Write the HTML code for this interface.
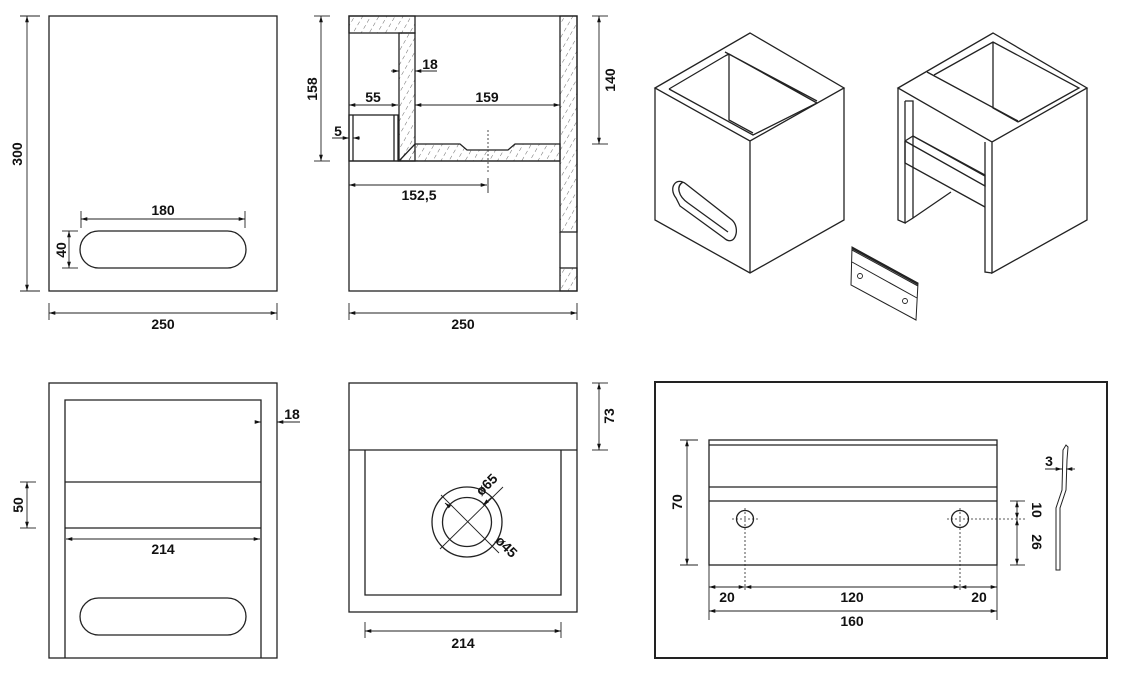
<!DOCTYPE html>
<html><head><meta charset="utf-8"><style>
html,body{margin:0;padding:0;background:#fff}
svg{display:block}
text{font-family:"Liberation Sans",sans-serif;font-size:14px;font-weight:bold;fill:#111}
</style></head><body>
<svg width="1127" height="676" viewBox="0 0 1127 676" xmlns="http://www.w3.org/2000/svg">
<defs>
<marker id="a" viewBox="0 0 10 10" refX="10" refY="5" markerWidth="7" markerHeight="7" orient="auto-start-reverse"><path d="M0,2 L10,5 L0,8 z" fill="#111"/></marker>
<pattern id="h" width="7" height="7" patternUnits="userSpaceOnUse" patternTransform="rotate(30)"><line x1="0" y1="0" x2="0" y2="4" stroke="#444" stroke-width="0.8"/></pattern>
</defs>
<g fill="none" stroke="#222" stroke-width="1.3">
<!-- view 1 -->
<rect x="49" y="16" width="228" height="275"/>
<rect x="80" y="231" width="166" height="37" rx="18.5"/>
<g stroke-width="0.9">
<line x1="27" y1="16" x2="27" y2="291" marker-start="url(#a)" marker-end="url(#a)"/>
<line x1="20" y1="16" x2="40" y2="16"/><line x1="20" y1="291" x2="40" y2="291"/>
<line x1="49" y1="313" x2="277" y2="313" marker-start="url(#a)" marker-end="url(#a)"/>
<line x1="49" y1="303" x2="49" y2="320"/><line x1="277" y1="303" x2="277" y2="320"/>
<line x1="81" y1="219" x2="245" y2="219" marker-start="url(#a)" marker-end="url(#a)"/>
<line x1="81" y1="211" x2="81" y2="228"/><line x1="245" y1="211" x2="245" y2="228"/>
<line x1="69" y1="231" x2="69" y2="268" marker-start="url(#a)" marker-end="url(#a)"/>
<line x1="62" y1="231" x2="78" y2="231"/><line x1="62" y1="268" x2="78" y2="268"/>
</g>
<!-- view 2 section -->
<rect x="349" y="16" width="228" height="275"/>
<rect x="349" y="16" width="66" height="17" fill="url(#h)"/>
<rect x="399" y="33" width="16" height="128" fill="url(#h)"/>
<path d="M399,161 L415,144 L460,144 L467,150 L508,150 L515,144 L560,144 L560,161 Z" fill="url(#h)"/>
<rect x="560" y="16" width="17" height="216" fill="url(#h)"/>
<rect x="560" y="268" width="17" height="23" fill="url(#h)"/>
<line x1="560" y1="232" x2="560" y2="268"/>
<line x1="349" y1="161" x2="560" y2="161"/>
<rect x="349" y="115" width="49" height="46"/>
<line x1="353" y1="115" x2="353" y2="161"/><line x1="394" y1="115" x2="394" y2="161"/>
<line x1="488" y1="130" x2="488" y2="172" stroke-dasharray="2,2" stroke-width="0.8"/>
<g stroke-width="0.9">
<line x1="321" y1="16" x2="321" y2="161" marker-start="url(#a)" marker-end="url(#a)"/>
<line x1="314" y1="16" x2="330" y2="16"/><line x1="314" y1="161" x2="330" y2="161"/>
<line x1="599" y1="16" x2="599" y2="144" marker-start="url(#a)" marker-end="url(#a)"/>
<line x1="592" y1="16" x2="608" y2="16"/><line x1="592" y1="144" x2="608" y2="144"/>
<line x1="391" y1="71" x2="399" y2="71" marker-end="url(#a)"/><line x1="437" y1="71" x2="415" y2="71" marker-end="url(#a)"/>
<line x1="349" y1="105" x2="398" y2="105" marker-start="url(#a)" marker-end="url(#a)"/>
<line x1="415" y1="105" x2="560" y2="105" marker-start="url(#a)" marker-end="url(#a)"/>
<line x1="332" y1="138" x2="349" y2="138" marker-end="url(#a)"/><line x1="360" y1="138" x2="353" y2="138" marker-end="url(#a)"/>
<line x1="349" y1="185" x2="487" y2="185" marker-start="url(#a)" marker-end="url(#a)"/>
<line x1="488" y1="178" x2="488" y2="193"/>
<line x1="349" y1="313" x2="577" y2="313" marker-start="url(#a)" marker-end="url(#a)"/>
<line x1="349" y1="303" x2="349" y2="320"/><line x1="577" y1="303" x2="577" y2="320"/>
</g>
<!-- iso left -->
<path d="M655,88 L750,33 L844,88 L750,141 Z M655,88 L655,220 L750,273 L844,220 L844,88 M750,141 L750,273"/>
<path d="M669,89 L725,56 M729,54 L817,103 L753,135 L669,89 M725,56 L729,54 M725,52 L817,101"/>
<path d="M729,54 L729,120 L753,133"/>
<path d="M676,198 C668,188 676,176 686,184 L732,220 C741,228 735,248 724,238 L680,206 Z"/>
<path d="M683,182 C676,186 678,196 688,203 L728,232"/>
<!-- iso right -->
<path d="M898,88 L993,33 L1087,88 L992,142 Z M1087,88 L1087,220 L992,273 L992,142 M898,88 L898,220 L905,223 L905,101"/>
<path d="M905,101 L913,101 L913,218 L905,223 M913,218 L951,192"/>
<path d="M934,75 L993,42 L1079,88 L1018,122 M993,42 L993,108 L1018,122"/>
<path d="M927,72 L1018,121"/>
<path d="M905,141 L913,136 L985,175 L985,186 L905,141 M905,141 L905,163 L985,207 M913,136 L985,176"/>
<path d="M985,142 L985,272 L992,273"/>
<!-- small bracket -->
<path d="M852,247 L918,283 L916,320 L851,285 Z M852,250 L918,286 M852,262 L917,298" stroke-width="1"/>
<line x1="852" y1="248" x2="918" y2="284" stroke-width="2.2"/>
<circle cx="860" cy="276" r="2.5" stroke-width="0.9"/><circle cx="905" cy="301" r="2.5" stroke-width="0.9"/>
<!-- bottom left -->
<rect x="49" y="383" width="228" height="275"/>
<path d="M65,658 L65,400 L261,400 L261,658"/>
<line x1="65" y1="482" x2="261" y2="482"/><line x1="65" y1="528" x2="261" y2="528"/>
<rect x="80" y="598" width="166" height="37" rx="18.5"/>
<g stroke-width="0.9">
<line x1="27" y1="482" x2="27" y2="528" marker-start="url(#a)" marker-end="url(#a)"/>
<line x1="20" y1="482" x2="36" y2="482"/><line x1="20" y1="528" x2="36" y2="528"/>
<line x1="66" y1="539" x2="260" y2="539" marker-start="url(#a)" marker-end="url(#a)"/>
<line x1="255" y1="422" x2="261" y2="422" marker-end="url(#a)"/><line x1="300" y1="422" x2="277" y2="422" marker-end="url(#a)"/>
</g>
<!-- bottom middle -->
<rect x="349" y="383" width="228" height="229"/>
<line x1="349" y1="450" x2="577" y2="450"/>
<path d="M365,450 L365,595 L561,595 L561,450"/>
<circle cx="467" cy="522" r="35"/><circle cx="467" cy="522" r="24.5"/>
<g stroke-width="0.9">
<line x1="440" y1="549" x2="503" y2="487"/>
<line x1="441" y1="495" x2="499" y2="553"/>
<line x1="492" y1="497" x2="483" y2="505" marker-end="url(#a)"/>
<line x1="445" y1="503" x2="450" y2="507" marker-start="url(#a)"/>
<line x1="599" y1="383" x2="599" y2="450" marker-start="url(#a)" marker-end="url(#a)"/>
<line x1="592" y1="383" x2="608" y2="383"/><line x1="592" y1="450" x2="608" y2="450"/>
<line x1="365" y1="631" x2="561" y2="631" marker-start="url(#a)" marker-end="url(#a)"/>
<line x1="365" y1="622" x2="365" y2="638"/><line x1="561" y1="622" x2="561" y2="638"/>
</g>
<!-- box -->
<rect x="655" y="382" width="452" height="276" stroke-width="2"/>
<rect x="709" y="440" width="288" height="125"/>
<line x1="709" y1="445" x2="997" y2="445"/><line x1="709" y1="487" x2="997" y2="487"/><line x1="709" y1="501" x2="997" y2="501"/>
<circle cx="745" cy="519" r="8.5"/><circle cx="960" cy="519" r="8.5"/>
<g stroke-width="0.8" stroke-dasharray="2,2">
<line x1="732" y1="519" x2="758" y2="519"/><line x1="947" y1="519" x2="1025" y2="519"/>
<line x1="745" y1="508" x2="745" y2="590"/><line x1="960" y1="508" x2="960" y2="590"/>
</g>
<path d="M1056,570 L1056,508 L1062,490 L1063,450 L1066,445 L1068,447 L1067,460 L1066,490 L1060,508 L1060,570 Z" stroke-width="1"/>
<g stroke-width="0.9">
<line x1="687" y1="440" x2="687" y2="565" marker-start="url(#a)" marker-end="url(#a)"/>
<line x1="680" y1="440" x2="698" y2="440"/><line x1="680" y1="565" x2="698" y2="565"/>
<line x1="709" y1="565" x2="709" y2="620"/><line x1="997" y1="565" x2="997" y2="620"/>
<line x1="709" y1="587" x2="745" y2="587" marker-start="url(#a)" marker-end="url(#a)"/>
<line x1="745" y1="587" x2="960" y2="587" marker-start="url(#a)" marker-end="url(#a)"/>
<line x1="960" y1="587" x2="997" y2="587" marker-start="url(#a)" marker-end="url(#a)"/>
<line x1="709" y1="611" x2="997" y2="611" marker-start="url(#a)" marker-end="url(#a)"/>
<line x1="1017" y1="501" x2="1017" y2="519" marker-start="url(#a)" marker-end="url(#a)"/>
<line x1="1017" y1="519" x2="1017" y2="565" marker-start="url(#a)" marker-end="url(#a)"/>
<line x1="1010" y1="501" x2="1025" y2="501"/><line x1="1010" y1="565" x2="1025" y2="565"/>
<line x1="1045" y1="469" x2="1062" y2="469" marker-end="url(#a)"/><line x1="1075" y1="469" x2="1066" y2="469" marker-end="url(#a)"/>
</g>
</g>
<g>
<text x="22" y="154" transform="rotate(-90 22 154)" text-anchor="middle">300</text>
<text x="163" y="329" text-anchor="middle">250</text>
<text x="163" y="215" text-anchor="middle">180</text>
<text x="66" y="250" transform="rotate(-90 66 250)" text-anchor="middle">40</text>
<text x="317" y="89" transform="rotate(-90 317 89)" text-anchor="middle">158</text>
<text x="615" y="80" transform="rotate(-90 615 80)" text-anchor="middle">140</text>
<text x="430" y="69" text-anchor="middle">18</text>
<text x="373" y="102" text-anchor="middle">55</text>
<text x="487" y="102" text-anchor="middle">159</text>
<text x="338" y="136" text-anchor="middle">5</text>
<text x="419" y="200" text-anchor="middle">152,5</text>
<text x="463" y="329" text-anchor="middle">250</text>
<text x="23" y="505" transform="rotate(-90 23 505)" text-anchor="middle">50</text>
<text x="163" y="554" text-anchor="middle">214</text>
<text x="292" y="419" text-anchor="middle">18</text>
<text x="614" y="416" transform="rotate(-90 614 416)" text-anchor="middle">73</text>
<text x="490" y="488" transform="rotate(-45 490 488)" text-anchor="middle">ø65</text>
<text x="503" y="550" transform="rotate(45 503 550)" text-anchor="middle">ø45</text>
<text x="463" y="648" text-anchor="middle">214</text>
<text x="682" y="502" transform="rotate(-90 682 502)" text-anchor="middle">70</text>
<text x="727" y="602" text-anchor="middle">20</text>
<text x="852" y="602" text-anchor="middle">120</text>
<text x="979" y="602" text-anchor="middle">20</text>
<text x="852" y="626" text-anchor="middle">160</text>
<text x="1032" y="510" transform="rotate(90 1032 510)" text-anchor="middle">10</text>
<text x="1032" y="542" transform="rotate(90 1032 542)" text-anchor="middle">26</text>
<text x="1049" y="466" text-anchor="middle">3</text>
</g>
</svg>
</body></html>
